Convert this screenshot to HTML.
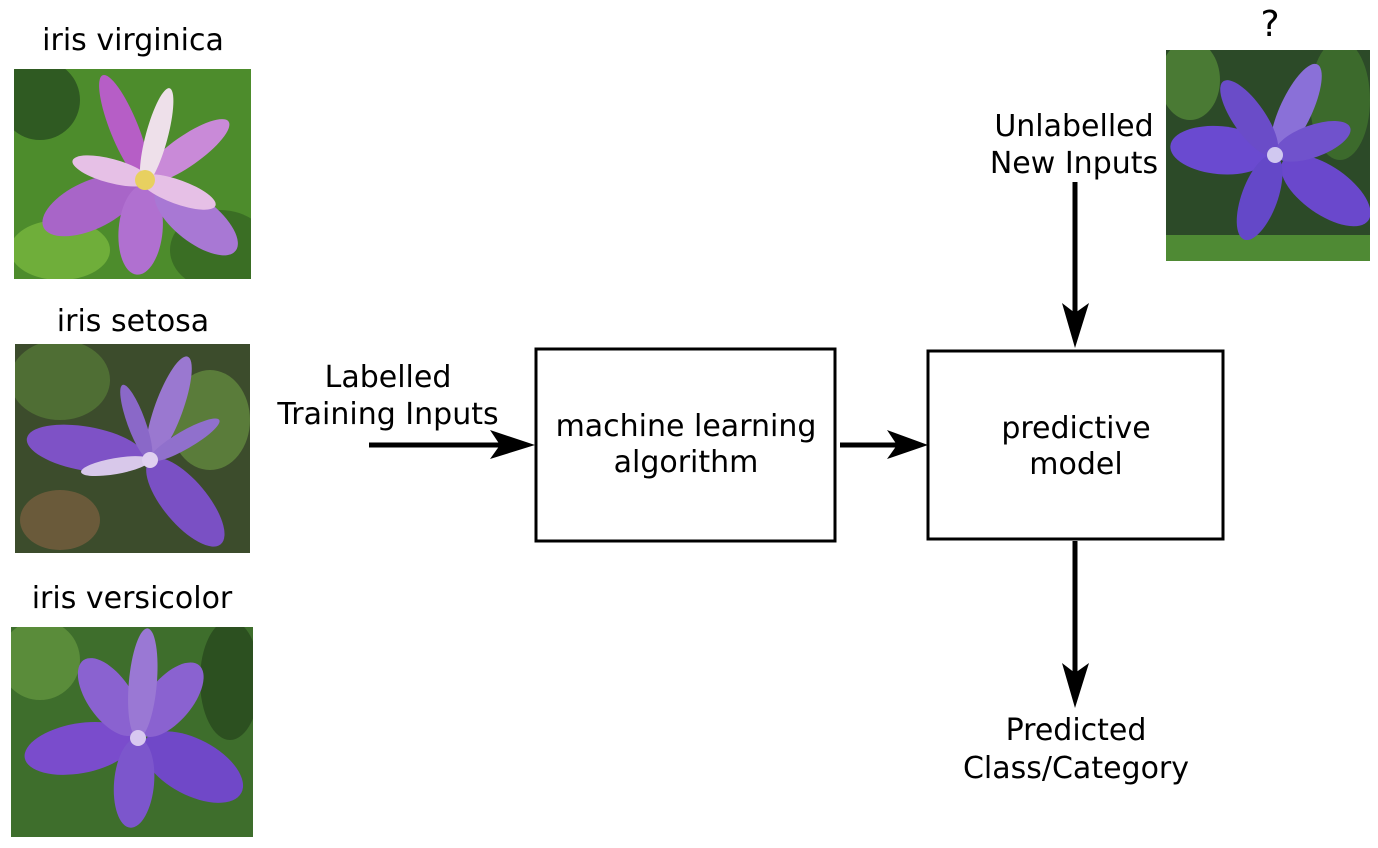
<!DOCTYPE html>
<html><head><meta charset="utf-8"><style>
html,body{margin:0;padding:0;background:#fff;}
svg{display:block;}
text{font-family:"DejaVu Sans","Liberation Sans",sans-serif;font-size:30px;fill:#000;text-anchor:middle;}
</style></head><body>
<svg width="1378" height="848" viewBox="0 0 1378 848" xmlns="http://www.w3.org/2000/svg">
<defs>
<clipPath id="c1"><rect x="14" y="69" width="237" height="210"/></clipPath>
<clipPath id="c2"><rect x="15" y="344" width="235" height="209"/></clipPath>
<clipPath id="c3"><rect x="11" y="627" width="242" height="210"/></clipPath>
<clipPath id="c4"><rect x="1166" y="50" width="204" height="211"/></clipPath>
</defs>

<!-- virginica -->
<g clip-path="url(#c1)">
<rect x="14" y="69" width="237" height="210" fill="#4d8c2c"/>
<ellipse cx="40" cy="100" rx="40" ry="40" fill="#2f5a22"/>
<ellipse cx="220" cy="250" rx="50" ry="40" fill="#3a6e24"/>
<ellipse cx="60" cy="250" rx="50" ry="30" fill="#6fae3a"/>
<g transform="translate(145,180)">
<ellipse cx="0" cy="-55" rx="14" ry="58" fill="#b65ec6" transform="rotate(-22)"/>
<ellipse cx="0" cy="-50" rx="15" ry="52" fill="#c98ad8" transform="rotate(55)"/>
<ellipse cx="0" cy="-45" rx="11" ry="50" fill="#eee0ea" transform="rotate(15)"/>
<ellipse cx="0" cy="-60" rx="24" ry="52" fill="#a865c8" transform="rotate(-115)"/>
<ellipse cx="0" cy="-50" rx="22" ry="45" fill="#b070d0" transform="rotate(185)"/>
<ellipse cx="0" cy="-65" rx="22" ry="50" fill="#a878d4" transform="rotate(128)"/>
<ellipse cx="0" cy="-35" rx="12" ry="40" fill="#e6c0e6" transform="rotate(-75)"/>
<ellipse cx="0" cy="-35" rx="12" ry="40" fill="#e6c0e6" transform="rotate(110)"/>
<circle cx="0" cy="0" r="10" fill="#e8d060"/>
</g>
</g>

<!-- setosa -->
<g clip-path="url(#c2)">
<rect x="15" y="344" width="235" height="209" fill="#3c4c2c"/>
<ellipse cx="60" cy="380" rx="50" ry="40" fill="#4f6e34"/>
<ellipse cx="210" cy="420" rx="40" ry="50" fill="#5a7c3a"/>
<ellipse cx="60" cy="520" rx="40" ry="30" fill="#6a5a3a"/>
<g transform="translate(150,460)">
<ellipse cx="0" cy="-65" rx="22" ry="60" fill="#7e52c6" transform="rotate(-80)"/>
<ellipse cx="0" cy="-55" rx="14" ry="55" fill="#9a78d0" transform="rotate(20)"/>
<ellipse cx="0" cy="-55" rx="22" ry="55" fill="#7a50c4" transform="rotate(140)"/>
<ellipse cx="0" cy="-40" rx="9" ry="40" fill="#8a68c8" transform="rotate(-20)"/>
<ellipse cx="0" cy="-40" rx="9" ry="40" fill="#9070cc" transform="rotate(60)"/>
<ellipse cx="0" cy="-35" rx="8" ry="35" fill="#d8c8ea" transform="rotate(-100)"/>
<circle cx="0" cy="0" r="8" fill="#e0d0f0"/>
</g>
</g>

<!-- versicolor -->
<g clip-path="url(#c3)">
<rect x="11" y="627" width="242" height="210" fill="#3e6e2c"/>
<ellipse cx="40" cy="660" rx="40" ry="40" fill="#5a8c3a"/>
<ellipse cx="230" cy="680" rx="30" ry="60" fill="#2c5020"/>
<g transform="translate(138,738)">
<ellipse cx="0" cy="-60" rx="25" ry="55" fill="#7a4ccc" transform="rotate(-100)"/>
<ellipse cx="0" cy="-62" rx="28" ry="55" fill="#7048c8" transform="rotate(118)"/>
<ellipse cx="0" cy="-50" rx="22" ry="45" fill="#8a62d0" transform="rotate(-35)"/>
<ellipse cx="0" cy="-50" rx="22" ry="45" fill="#8a62d0" transform="rotate(40)"/>
<ellipse cx="0" cy="-55" rx="14" ry="55" fill="#9a78d4" transform="rotate(5)"/>
<ellipse cx="0" cy="-45" rx="20" ry="45" fill="#7c56cc" transform="rotate(185)"/>
<circle cx="0" cy="0" r="8" fill="#d8c8f0"/>
</g>
</g>

<!-- unlabelled -->
<g clip-path="url(#c4)">
<rect x="1166" y="50" width="204" height="211" fill="#2c4a28"/>
<ellipse cx="1190" cy="80" rx="30" ry="40" fill="#4a7a34"/>
<ellipse cx="1340" cy="100" rx="30" ry="60" fill="#3c6a2c"/>
<rect x="1166" y="235" width="204" height="26" fill="#4f8a34"/>
<g transform="translate(1275,155)">
<ellipse cx="0" cy="-55" rx="24" ry="50" fill="#6a4ad0" transform="rotate(-85)"/>
<ellipse cx="0" cy="-62" rx="24" ry="52" fill="#6a48cc" transform="rotate(125)"/>
<ellipse cx="0" cy="-50" rx="16" ry="50" fill="#8a70d8" transform="rotate(25)"/>
<ellipse cx="0" cy="-45" rx="16" ry="45" fill="#6a4cc8" transform="rotate(-35)"/>
<ellipse cx="0" cy="-45" rx="18" ry="45" fill="#6448c8" transform="rotate(200)"/>
<ellipse cx="0" cy="-40" rx="16" ry="40" fill="#7052cc" transform="rotate(70)"/>
<circle cx="0" cy="0" r="8" fill="#d0c8f0"/>
</g>
</g>

<!-- labels -->
<text x="133" y="50">iris virginica</text>
<text x="133" y="331">iris setosa</text>
<text x="132" y="608">iris versicolor</text>
<text x="1270" y="36" style="font-size:36px">?</text>
<text x="388" y="387">Labelled</text>
<text x="388" y="424">Training Inputs</text>
<text x="1074" y="136">Unlabelled</text>
<text x="1074" y="173">New Inputs</text>
<text x="1076" y="740">Predicted</text>
<text x="1076" y="778">Class/Category</text>

<!-- boxes -->
<rect x="536" y="349" width="299" height="192" fill="none" stroke="#000" stroke-width="3"/>
<text x="686" y="436">machine learning</text>
<text x="686" y="472">algorithm</text>
<rect x="928" y="351" width="295" height="188" fill="none" stroke="#000" stroke-width="3"/>
<text x="1076" y="438">predictive</text>
<text x="1076" y="474">model</text>

<!-- arrows -->
<line x1="369" y1="445" x2="505" y2="445" stroke="#000" stroke-width="5"/>
<path d="M535,445 L490,430 L500,445 L490,459 Z" fill="#000"/>
<line x1="840" y1="445" x2="900" y2="445" stroke="#000" stroke-width="5"/>
<path d="M928,445 L887,430 L897,445 L887,459 Z" fill="#000"/>
<line x1="1075" y1="182" x2="1075" y2="320" stroke="#000" stroke-width="5"/>
<path d="M1075,348 L1062,303 L1075,313 L1089,303 Z" fill="#000"/>
<line x1="1075" y1="541" x2="1075" y2="680" stroke="#000" stroke-width="5"/>
<path d="M1075,708 L1062,663 L1075,673 L1089,663 Z" fill="#000"/>
</svg>
</body></html>
